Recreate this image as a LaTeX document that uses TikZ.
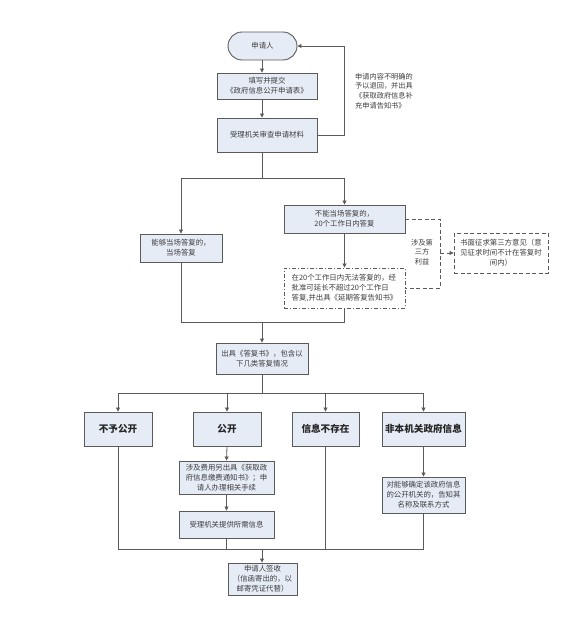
\documentclass[tikz,border=0pt]{standalone}
\usepackage{fontspec}
\usepackage{tikz}
\usetikzlibrary{arrows.meta,positioning,calc}
\newfontfamily\cjk{Noto Sans CJK SC}
\definecolor{boxfill}{RGB}{230,236,246}
\definecolor{boxline}{RGB}{90,90,90}
\definecolor{txtgray}{RGB}{60,60,60}
\tikzset{
  box/.style={draw=boxline, fill=boxfill, line width=0.9pt, align=center, inner sep=1pt,
              font=\cjk\fontsize{7.4}{10}\selectfont, text=txtgray},
  bigbox/.style={box, font=\cjk\bfseries\fontsize{9.6}{12}\selectfont, text=black!85},
  termbox/.style={box, rounded corners=14pt},
  dbox/.style={draw=boxline, line width=0.9pt, dash pattern=on 4pt off 2.5pt, align=left, inner sep=2pt,
               font=\cjk\fontsize{7.4}{10}\selectfont, text=txtgray},
  ddbox/.style={dbox, dash pattern=on 4pt off 2pt on 1pt off 2pt},
  note/.style={align=left, font=\cjk\fontsize{7.2}{9.6}\selectfont, text=txtgray},
  ln/.style={boxline, line width=0.8pt},
  arr/.style={ln, -{Triangle[length=4pt,width=4pt]}},
}
\begin{document}
\begin{tikzpicture}[x=1pt,y=-1pt]
  \useasboundingbox (0,0) rectangle (576,621);
  % top part
  \node[termbox, minimum width=69pt, minimum height=28pt] (app) at (262.5,46) {申请人};
  \node[box, minimum width=100pt, minimum height=26pt] (form) at (267,86)
       {填写并提交\\《政府信息公开申请表》};
  \node[box, minimum width=100pt, minimum height=34pt] (check) at (267,135) {受理机关审查申请材料};
  \node[note] (back) at (384,91) {申请内容不明确的\\予以退回，并出具\\《获取政府信息补\\充申请告知书》};
  \draw[arr] (app.south -| 262,0) -- (form.north -| 262,0);
  \draw[arr] (form.south -| 262,0) -- (check.north -| 262,0);
  \draw[arr] (check.east) -- ++(27,0) |- (app.east);
  % answer now or later
  \node[box, minimum width=82pt, minimum height=28pt] (now) at (181,248) {能够当场答复的，\\当场答复};
  \node[box, minimum width=121pt, minimum height=28pt] (later) at (344.5,219) {不能当场答复的，\\20个工作日内答复};
  \node[ddbox, minimum width=121pt, minimum height=40pt] (ext) at (344.5,288)
       {在20个工作日内无法答复的，经\\批准可延长不超过20个工作日\\答复,并出具《延期答复告知书》};
  \node[dbox, align=center, minimum width=94pt, minimum height=40pt] (third) at (501,253)
       {书面征求第三方意见（意\\见征求时间不计在答复时\\间内）};
  \node[note, align=center] (party) at (422,252) {涉及第\\三方\\利益};
  \coordinate (split) at (262,178);
  \draw[ln] (check.south -| split) -- (split);
  \draw[ln] (split) -- (181,178) coordinate (sl);
  \draw[ln] (split) -- (344.5,178) coordinate (sr);
  \draw[arr] (sl) -- (now.north);
  \draw[arr] (sr) -- (later.north);
  \draw[arr] (later.south) -- (ext.north);
  \draw[ln, dash pattern=on 4pt off 2.5pt] (later.east) -- (440,219) -- (440,288) -- (ext.east);
  \draw[ln, dash pattern=on 4pt off 2.5pt, -{Triangle[length=4pt,width=4pt]}] (440,253) -- (third.west);
  % reply
  \node[box, minimum width=92pt, minimum height=31pt] (reply) at (262,358.5)
       {出具《答复书》，包含以\\下几类答复情况};
  \coordinate (merge) at (262,322);
  \draw[ln] (now.south) |- (merge);
  \draw[ln] (ext.south) |- (merge);
  \draw[arr] (merge) -- (reply.north -| merge);
  % four kinds of reply
  \node[bigbox, minimum width=68pt, minimum height=34pt] (deny) at (118,429) {不予公开};
  \node[bigbox, minimum width=68pt, minimum height=34pt] (open) at (227,429) {公开};
  \node[bigbox, minimum width=67pt, minimum height=34pt] (none) at (325.5,429) {信息不存在};
  \node[bigbox, minimum width=83pt, minimum height=34pt] (other) at (423.5,429) {非本机关政府信息};
  \coordinate (fork) at (262,393);
  \draw[ln] (reply.south -| fork) -- (fork);
  \draw[ln] (deny.north |- fork) -- (other.north |- fork);
  \foreach \n in {deny,open,none,other}
    \draw[arr] (\n.north |- fork) -- (\n.north);
  \node[box, minimum width=95pt, minimum height=33pt] (fee) at (226.5,477.5)
       {涉及费用另出具《获取政\\府信息缴费通知书》；申\\请人办理相关手续};
  \node[box, minimum width=95pt, minimum height=27pt] (give) at (226.5,524.5) {受理机关提供所需信息};
  \node[box, minimum width=83pt, minimum height=36pt] (tell) at (423.5,495)
       {对能够确定该政府信息\\的公开机关的，告知其\\名称及联系方式};
  \draw[arr] (open.south) -- (fee.north);
  \draw[arr] (fee.south) -- (give.north);
  \draw[arr] (other.south) -- (tell.north);
  % sign
  \node[box, minimum width=69pt, minimum height=32pt] (sign) at (262.5,579)
       {申请人签收\\（信函寄出的，以\\邮寄凭证代替）};
  \coordinate (join) at (262,549);
  \draw[ln] (deny.south) -- (deny.south |- join) -- (tell.south |- join) -- (tell.south);
  \draw[ln] (give.south) -- (give.south |- join);
  \draw[ln] (none.south) -- (none.south |- join);
  \draw[arr] (join) -- (sign.north -| join);
\end{tikzpicture}
\end{document}
